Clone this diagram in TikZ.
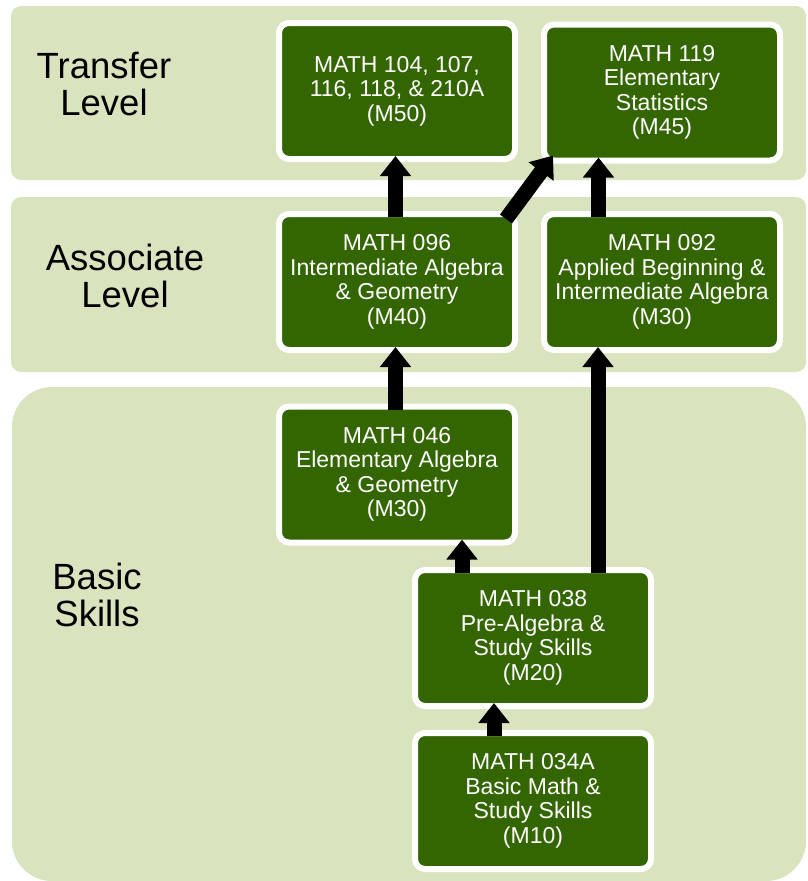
\documentclass[tikz,border=0pt]{standalone}
\usepackage{fontspec}
\setmainfont{Liberation Sans}
\usetikzlibrary{arrows.meta,calc}
\definecolor{bandgreen}{RGB}{217,228,191}
\definecolor{boxgreen}{RGB}{51,102,0}
\begin{document}
\begin{tikzpicture}[x=1pt,y=-1pt,
  band/.style={fill=bandgreen, draw=none},
  course/.style={rectangle, rounded corners=10pt, fill=boxgreen, draw=white, line width=6pt,
    minimum width=236pt, minimum height=136pt, inner sep=0pt, outer sep=-3pt,
    text=white, align=center, font=\fontsize{23}{24.5}\selectfont},
  level/.style={align=center, font=\fontsize{36.5}{37}\selectfont, text=black, inner sep=0pt},
  arr/.style={line width=15pt, -{Triangle[width=30pt,length=20pt]}, draw=black}
]
\useasboundingbox (0,0) rectangle (807,881);
\fill[white] (0,0) rectangle (807,881);
% bands
\fill[band, rounded corners=10pt] (11,6) rectangle (806,180);
\fill[band, rounded corners=10pt] (11,197) rectangle (806,372);
\fill[band, rounded corners=40pt] (12,387) rectangle (806,881);
% level labels (base = baseline of the last line)
\node[level, anchor=base] (tl) at (104,115) {Transfer\\Level};
\node[level, anchor=base] (al) at (125,307.5) {Associate\\Level};
\node[level, anchor=base] (bl) at (97,626) {Basic\\Skills};
% courses
\node[course] (M50) at (397,91) {MATH 104, 107,\\116, 118, \& 210A\\(M50)};
\node[course] (M45) at (662,92.5) {MATH 119\\Elementary\\Statistics\\(M45)};
\node[course] (M40) at (397,282) {MATH 096\\Intermediate Algebra\\\& Geometry\\(M40)};
\node[course] (M092) at (662,282) {MATH 092\\Applied Beginning \&\\Intermediate Algebra\\(M30)};
\node[course] (M046) at (397,474.5) {MATH 046\\Elementary Algebra\\\& Geometry\\(M30)};
\node[course] (M038) at (533,638) {MATH 038\\Pre-Algebra \&\\Study Skills\\(M20)};
\node[course] (M034) at (533,801) {MATH 034A\\Basic Math \&\\Study Skills\\(M10)};
% arrows
\draw[arr] ($(M40.north)+(-1.5,0)$) coordinate (a1) -- (a1 |- M50.south);
\draw[arr] ($(M40.north east)+(-6,2)$) -- ($(M45.south west)+(6,-2)$);
\draw[arr] ($(M092.north)+(-63.5,0)$) coordinate (a3) -- (a3 |- M45.south);
\draw[arr] ($(M046.north)+(-1.5,0)$) coordinate (a4) -- (a4 |- M40.south);
\draw[arr] ($(M038.north)+(-71,0)$) coordinate (a5) -- (a5 |- M046.south);
\draw[arr] ($(M038.north)+(65,0)$) coordinate (a6) -- (a6 |- M092.south);
\draw[arr] ($(M034.north)+(-39,0)$) coordinate (a7) -- (a7 |- M038.south);
\end{tikzpicture}
\end{document}
